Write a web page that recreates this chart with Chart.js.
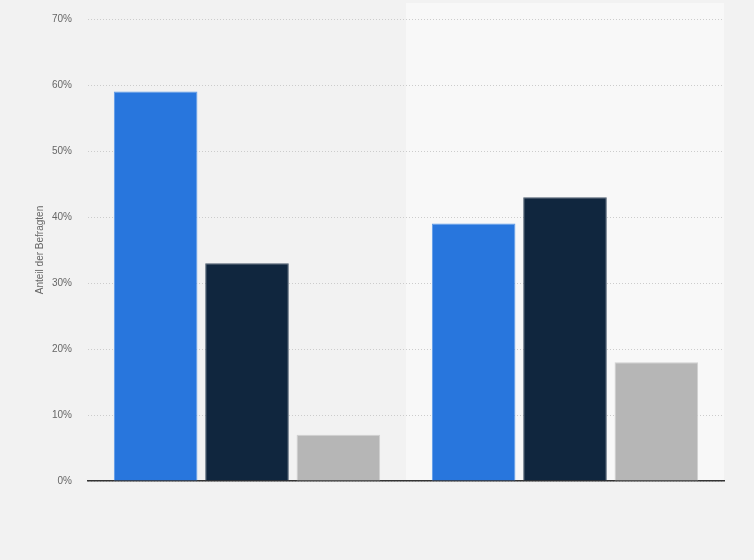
<!DOCTYPE html>
<html>
<head>
<meta charset="utf-8">
<script src="https://cdn.jsdelivr.net/npm/chart.js@4"></script>
<style>
html,body{margin:0;padding:0;background:#f2f2f2;}
#wrap{width:754px;height:560px;position:relative;}
</style>
</head>
<body>
<div id="wrap"><canvas id="c"></canvas></div>
<script>
const categories = ["Gruppe 1", "Gruppe 2"];
const seriesA = [59, 39];
const seriesB = [33, 43];
const seriesC = [7, 18];
const yTicks = [0, 10, 20, 30, 40, 50, 60, 70];

const bandPlugin = {
  id: 'band',
  beforeDraw(chart) {
    const {ctx, chartArea, scales} = chart;
    const x = scales.x;
    const w = (chartArea.right - chartArea.left) / categories.length;
    const start = x.getPixelForValue(1) - w / 2;
    ctx.save();
    ctx.fillStyle = '#f8f8f8';
    ctx.fillRect(start, 3, chartArea.right - start, chartArea.bottom - 3);
    ctx.restore();
  }
};

new Chart(document.getElementById('c'), {
  type: 'bar',
  data: {
    labels: categories,
    datasets: [
      {label: 'A', data: seriesA, backgroundColor: '#2876dd', borderColor: '#5d9be9', borderWidth: 1},
      {label: 'B', data: seriesB, backgroundColor: '#10263e', borderColor: '#4a5a6c', borderWidth: 1},
      {label: 'C', data: seriesC, backgroundColor: '#b6b6b6', borderColor: '#d0d0d0', borderWidth: 1}
    ]
  },
  options: {
    responsive: true,
    maintainAspectRatio: false,
    animation: false,
    devicePixelRatio: 1,
    layout: {padding: {top: 19, right: 30, bottom: 79, left: 0}},
    plugins: {legend: {display: false}, tooltip: {enabled: false}},
    datasets: {bar: {categoryPercentage: 0.862, barPercentage: 0.915}},
    scales: {
      x: {
        ticks: {display: false},
        grid: {display: false, drawTicks: false},
        border: {display: true, color: '#333333', width: 1.5}
      },
      y: {
        min: 0, max: 70,
        afterBuildTicks(scale) { scale.ticks = yTicks.map(v => ({value: v})); },
        afterFit(scale) { scale.width = 88; scale.paddingTop = 0; scale.paddingBottom = 0; },
        ticks: {
          padding: 16,
          color: '#666666',
          font: {family: 'Arial, "Liberation Sans", sans-serif', size: 10},
          callback: v => v + '%'
        },
        grid: {color: '#cccccc', lineWidth: 1, drawTicks: false},
        border: {display: false, dash: [1, 2]},
        title: {
          display: true,
          text: 'Anteil der Befragten',
          color: '#666666',
          font: {family: 'Arial, "Liberation Sans", sans-serif', size: 10},
          padding: {top: 34, bottom: 0}
        }
      }
    }
  },
  plugins: [bandPlugin]
});
</script>
</body>
</html>
